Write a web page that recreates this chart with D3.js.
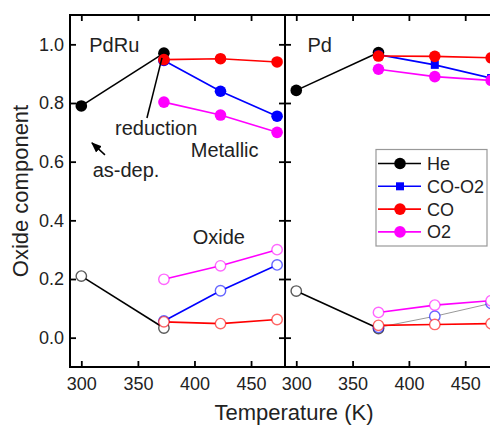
<!DOCTYPE html>
<html>
<head>
<meta charset="utf-8">
<style>
  body { margin: 0; background: #fff; }
  svg text { font-family: "Liberation Sans", Arial, sans-serif; fill: #222; }
</style>
</head>
<body>
<svg width="490" height="426"></svg>

<script src="https://cdn.jsdelivr.net/npm/d3@7"></script>

<script>
    // temperatures (K)
    var heTemps = [300, 373];
    var gasTemps = [373, 423, 473];
    var xTicks = [300, 350, 400, 450];
    var yTicks = [0.0, 0.2, 0.4, 0.6, 0.8, 1.0];

    var seriesNames = ["He", "CO-O2", "CO", "O2"];
    var seriesColors = ["#000000", "#0000ff", "#ff0000", "#ff00ff"];

    // PdRu panel
    var pdruHe = [0.79, 0.97];
    var pdruCoO2 = [0.945, 0.84, 0.755];
    var pdruCo = [0.948, 0.951, 0.94];
    var pdruO2 = [0.803, 0.759, 0.70];
    var pdruHeOx = [0.21, 0.033];
    var pdruCoO2Ox = [0.057, 0.16, 0.248];
    var pdruCoOx = [0.054, 0.048, 0.062];
    var pdruO2Ox = [0.199, 0.245, 0.30];

    // Pd panel
    var pdHe = [0.843, 0.972];
    var pdCoO2 = [0.965, 0.93, 0.885];
    var pdCo = [0.96, 0.959, 0.954];
    var pdO2 = [0.915, 0.89, 0.877];
    var pdHeOx = [0.159, 0.031];
    var pdCoO2Ox = [0.035, 0.073, 0.117];
    var pdCoOx = [0.042, 0.045, 0.048];
    var pdO2Ox = [0.086, 0.111, 0.126];
</script>

<script>
    function zip(ts, vs) {
        return ts.map(function(t, i) { return { t: t, v: vs[i] }; });
    }

    var svg = d3.select("svg");
    var top_ = 15, bottom_ = 367;

    var y = d3.scaleLinear().domain([-0.1, 1.1]).range([bottom_, top_]);

    var panels = [
        {
            name: "PdRu", left: 70, right: 285, labels: true,
            metal: [pdruHe, pdruCoO2, pdruCo, pdruO2],
            oxide: [pdruHeOx, pdruCoO2Ox, pdruCoOx, pdruO2Ox],
            squares: false, greyOx: false
        },
        {
            name: "Pd", left: 285, right: 499, labels: false,
            metal: [pdHe, pdCoO2, pdCo, pdO2],
            oxide: [pdHeOx, pdCoO2Ox, pdCoOx, pdO2Ox],
            squares: true, greyOx: true
        }
    ];

    var drawOrder = [0, 1, 3, 2];

    panels.forEach(function(p) {
        var x = d3.scaleLinear().domain([290, 480]).range([p.left, p.right]);
        p.x = x;
        var g = svg.append("g");

        // ticks inward on all four sides
        g.append("g").attr("transform", "translate(0," + bottom_ + ")")
            .call(d3.axisBottom(x).tickValues(xTicks).tickSizeInner(-6).tickSizeOuter(0).tickPadding(10)
                .tickFormat(d3.format("d")));
        g.append("g").attr("transform", "translate(0," + top_ + ")")
            .call(d3.axisTop(x).tickValues(xTicks).tickSizeInner(-6).tickSizeOuter(0).tickFormat(""));
        g.append("g").attr("transform", "translate(" + p.left + ",0)")
            .call(d3.axisLeft(y).tickValues(yTicks).tickSizeInner(-6).tickSizeOuter(0).tickPadding(6)
                .tickFormat(p.labels ? d3.format(".1f") : ""));
        g.append("g").attr("transform", "translate(" + p.right + ",0)")
            .call(d3.axisRight(y).tickValues(yTicks).tickSizeInner(-6).tickSizeOuter(0).tickFormat(""));

        g.selectAll(".domain").remove();
        g.selectAll(".tick line").attr("stroke", "#000").attr("stroke-width", 1.8);
        g.selectAll(".tick text").style("font-size", "18px").attr("fill", "#222");

        g.append("rect")
            .attr("x", p.left).attr("y", top_)
            .attr("width", p.right - p.left).attr("height", bottom_ - top_)
            .attr("fill", "none").attr("stroke", "#000").attr("stroke-width", 2);

        var line = d3.line().x(function(d) { return x(d.t); }).y(function(d) { return y(d.v); });

        // oxide (open markers)
        drawOrder.forEach(function(i) {
            var pts = zip(i === 0 ? heTemps : gasTemps, p.oxide[i]);
            var lineColor = (p.greyOx && i === 1) ? "#999" : seriesColors[i];
            g.append("path").datum(pts).attr("d", line)
                .attr("fill", "none").attr("stroke", lineColor)
                .attr("stroke-width", (p.greyOx && i === 1) ? 1 : 1.6);
            g.selectAll(null).data(pts).enter().append("circle")
                .attr("cx", function(d) { return x(d.t); })
                .attr("cy", function(d) { return y(d.v); })
                .attr("r", 5.2)
                .attr("fill", "#fff")
                .attr("stroke", seriesColors[i])
                .attr("stroke-opacity", i === 0 ? 0.65 : 0.6)
                .attr("stroke-width", 1.4);
        });

        // metallic (filled markers)
        drawOrder.forEach(function(i) {
            var pts = zip(i === 0 ? heTemps : gasTemps, p.metal[i]);
            g.append("path").datum(pts).attr("d", line)
                .attr("fill", "none").attr("stroke", seriesColors[i]).attr("stroke-width", 1.6);
            if (p.squares && i === 1) {
                g.selectAll(null).data(pts).enter().append("rect")
                    .attr("x", function(d) { return x(d.t) - 4; })
                    .attr("y", function(d) { return y(d.v) - 4; })
                    .attr("width", 8).attr("height", 8)
                    .attr("fill", seriesColors[i]);
            } else {
                g.selectAll(null).data(pts).enter().append("circle")
                    .attr("cx", function(d) { return x(d.t); })
                    .attr("cy", function(d) { return y(d.v); })
                    .attr("r", 5.8)
                    .attr("fill", seriesColors[i]);
            }
        });

        g.append("text").attr("x", x(p.name === "Pd" ? 310 : 307)).attr("y", y(0.975))
            .style("font-size", "20px").text(p.name);
    });

    // annotations on PdRu panel
    var xl = panels[0].x;
    var ann = svg.append("g").style("font-size", "20px");
    ann.append("text").attr("x", xl(329.8)).attr("y", y(0.691)).text("reduction");
    ann.append("text").attr("x", xl(396.7)).attr("y", y(0.617)).text("Metallic");
    ann.append("text").attr("x", xl(310)).attr("y", y(0.548)).text("as-dep.");
    ann.append("text").attr("x", xl(398.4)).attr("y", y(0.319)).text("Oxide");

    ann.append("line")
        .attr("x1", xl(358)).attr("y1", y(0.749))
        .attr("x2", xl(371.3)).attr("y2", y(0.954))
        .attr("stroke", "#000").attr("stroke-width", 1.5);

    svg.append("defs").append("marker")
        .attr("id", "head").attr("viewBox", "0 0 10 10")
        .attr("refX", 9).attr("refY", 5)
        .attr("markerWidth", 7).attr("markerHeight", 7)
        .attr("orient", "auto")
        .append("path").attr("d", "M0,1 L10,5 L0,9 Z").attr("fill", "#000");

    ann.append("line")
        .attr("x1", xl(320.9)).attr("y1", y(0.623))
        .attr("x2", xl(309.4)).attr("y2", y(0.664))
        .attr("stroke", "#000").attr("stroke-width", 1.5)
        .attr("marker-end", "url(#head)");

    // legend
    var leg = svg.append("g");
    leg.append("rect").attr("x", 376).attr("y", 149.5).attr("width", 111).attr("height", 96.5)
        .attr("fill", "#fff").attr("stroke", "#999").attr("stroke-width", 1.2);
    seriesNames.forEach(function(name, i) {
        var ly = 163.5 + i * 22.8;
        leg.append("line").attr("x1", 378).attr("x2", 421).attr("y1", ly).attr("y2", ly)
            .attr("stroke", seriesColors[i]).attr("stroke-width", 1.6);
        if (i === 1) {
            leg.append("rect").attr("x", 396).attr("y", ly - 4).attr("width", 8).attr("height", 8)
                .attr("fill", seriesColors[i]);
        } else {
            leg.append("circle").attr("cx", 400).attr("cy", ly).attr("r", 5.8).attr("fill", seriesColors[i]);
        }
        leg.append("text").attr("x", 427).attr("y", ly + 6.5).style("font-size", "18px").text(name);
    });

    // axis titles
    svg.append("text")
        .attr("x", 294).attr("y", 420)
        .attr("text-anchor", "middle")
        .style("font-size", "22px")
        .text("Temperature (K)");

    svg.append("text")
        .attr("transform", "translate(28,191) rotate(-90)")
        .attr("text-anchor", "middle")
        .style("font-size", "22px")
        .text("Oxide component");
</script>
</body>
</html>
